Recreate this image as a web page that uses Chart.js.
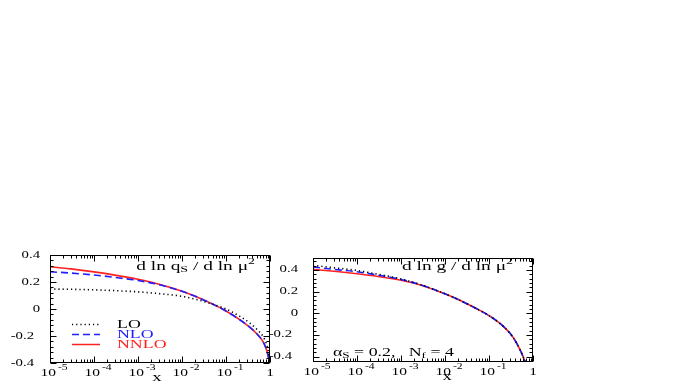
<!DOCTYPE html>
<html><head><meta charset="utf-8">
<script src="https://cdn.jsdelivr.net/npm/chart.js@4/dist/chart.umd.min.js"></script>
<style>
html,body{margin:0;padding:0;background:#fff;width:681px;height:382px;overflow:hidden;position:relative;}
#c1{position:absolute;left:0;top:240px;}
#c2{position:absolute;left:262px;top:240px;}
</style></head><body>
<canvas id="c1" width="290" height="142"></canvas>
<canvas id="c2" width="419" height="142"></canvas>
<script>
// ---- data ----
const qsX    = [1e-5, 3e-5, 1e-4, 3e-4, 1e-3, 3e-3, 1e-2, 2e-2, 5e-2, 0.1, 0.2, 0.35, 0.5, 0.7, 0.8, 0.9, 0.95, 1];
const qsLO   = [0.148, 0.146, 0.142, 0.136, 0.127, 0.114, 0.094, 0.073, 0.035, 0.000, -0.052, -0.105, -0.150, -0.205, -0.245, -0.300, -0.345, -0.400];
const qsNLO  = [0.276, 0.266, 0.252, 0.234, 0.211, 0.180, 0.132, 0.094, 0.036, -0.015, -0.077, -0.136, -0.183, -0.244, -0.285, -0.341, -0.379, -0.420];
const qsNNLO = [0.313, 0.297, 0.275, 0.251, 0.220, 0.184, 0.132, 0.094, 0.036, -0.015, -0.077, -0.136, -0.183, -0.244, -0.285, -0.341, -0.379, -0.420];

const gX     = [1e-5, 3e-5, 1e-4, 3e-4, 1e-3, 3e-3, 1e-2, 2e-2, 5e-2, 0.1, 0.2, 0.35, 0.5, 0.6, 0.7];
const gLO    = [0.442, 0.420, 0.395, 0.360, 0.316, 0.260, 0.179, 0.126, 0.046, -0.022, -0.112, -0.220, -0.332, -0.404, -0.475];
const gNLO   = [0.427, 0.405, 0.383, 0.352, 0.312, 0.259, 0.179, 0.126, 0.046, -0.022, -0.112, -0.220, -0.332, -0.404, -0.475];
const gNNLO  = [0.405, 0.387, 0.364, 0.339, 0.305, 0.257, 0.179, 0.126, 0.046, -0.022, -0.112, -0.220, -0.332, -0.404, -0.475];

const seriesNames = ['LO', 'NLO', 'NNLO'];
const xDecades = [-5, -4, -3, -2, -1, 0];
const yTickValues = [-0.4, -0.2, 0, 0.2, 0.4];
const yTickLabels = ['-0.4', '-0.2', '0', '0.2', '0.4'];

// ---- styling ----
const FONT = '"Liberation Serif", "Times New Roman", serif';
const SX = 1.55; // horizontal stretch of the reference's lettering
const COLORS = ['#000000', '#2020ff', '#ff2020'];
const DASHES = [[1.2, 3], [7, 4], []];

function drawRich(ctx, segs, x, y, align) {
  ctx.save();
  let total = 0;
  segs.forEach(s => { ctx.font = s.size + 'px ' + FONT; s.w = ctx.measureText(s.t).width * SX; total += s.w; });
  let cx = align === 'right' ? x - total : align === 'center' ? x - total / 2 : x;
  ctx.textBaseline = 'middle'; ctx.textAlign = 'left';
  segs.forEach(s => {
    ctx.save();
    ctx.font = s.size + 'px ' + FONT;
    ctx.fillStyle = s.color || '#000';
    ctx.translate(cx, y + (s.dy || 0));
    ctx.scale(SX, 1);
    ctx.fillText(s.t, 0, 0);
    ctx.restore();
    cx += s.w;
  });
  ctx.restore();
  return total;
}

function decoPlugin(cfg) {
  return {
    id: 'deco',
    afterDraw(chart) {
      const ctx = chart.ctx, a = chart.chartArea;
      const xs = chart.scales.x, ys = chart.scales.y;
      ctx.save();
      ctx.strokeStyle = '#000'; ctx.lineWidth = 1;
      const L = Math.round(a.left) + 0.5, R = Math.round(a.right) - 0.5;
      const T = Math.round(a.top) + 0.5, B = Math.round(a.bottom) - 0.5;
      ctx.strokeRect(L, T, R - L, B - T);
      ctx.beginPath();
      xDecades.forEach(k => {
        for (let m = 1; m <= 9; m++) {
          const v = m * Math.pow(10, k);
          if (v > 1.0000001) break;
          const px = Math.round(xs.getPixelForValue(v)) + 0.5;
          const len = m === 1 ? 6 : 3;
          ctx.moveTo(px, B); ctx.lineTo(px, B - len);
          ctx.moveTo(px, T); ctx.lineTo(px, T + len);
        }
      });
      for (let i = -15; i <= 15; i++) {
        const v = i * 0.04;
        if (v < ys.min - 1e-9 || v > ys.max + 1e-9) continue;
        const py = Math.round(ys.getPixelForValue(v)) + 0.5;
        const len = (i % 5 === 0) ? 6 : 3;
        ctx.moveTo(L, py); ctx.lineTo(L + len, py);
        ctx.moveTo(R, py); ctx.lineTo(R - len, py);
      }
      ctx.stroke();
      ctx.restore();

      yTickValues.forEach((v, i) => {
        const py = ys.getPixelForValue(v);
        const off = v < 0 ? cfg.yLabelGap + 6 : cfg.yLabelGap;
        drawRich(ctx, [{ t: yTickLabels[i], size: 9.5 }], a.left - off, py, 'right');
      });
      xDecades.forEach(k => {
        const px = xs.getPixelForValue(Math.pow(10, k));
        const yb = a.bottom + 10.5;
        if (k === 0) {
          drawRich(ctx, [{ t: '1', size: 10 }], px, yb, 'center');
        } else {
          drawRich(ctx, [{ t: '10', size: 10 }, { t: ' ', size: 5 }, { t: String(k), size: 7.5, dy: -5 }], px + 4, yb, 'center');
        }
      });
      drawRich(ctx, [{ t: 'x', size: 12 }], a.left + cfg.xTitleFrac * (a.right - a.left), a.bottom + 15, 'center');
      drawRich(ctx, cfg.title, a.right - cfg.titleRight, a.top + cfg.titleDy, 'right');
      if (cfg.legend) {
        chart.data.datasets.forEach((ds, i) => {
          const y = Math.round(a.top + 69 + i * 10) + 0.5;
          ctx.save();
          ctx.strokeStyle = ds.borderColor; ctx.lineWidth = 1.5;
          ctx.setLineDash(ds.borderDash || []);
          ctx.beginPath(); ctx.moveTo(a.left + 22, y); ctx.lineTo(a.left + 50, y); ctx.stroke();
          ctx.restore();
          drawRich(ctx, [{ t: ds.label, size: 11.5, color: ds.borderColor }], a.left + 67, y, 'left');
        });
      }
      if (cfg.note) {
        drawRich(ctx, cfg.note, a.left + 20, a.bottom - 9, 'left');
      }
    }
  };
}

function makeChart(id, xVals, seriesVals, cfg) {
  return new Chart(document.getElementById(id), {
    type: 'line',
    data: {
      datasets: seriesVals.map((vals, i) => ({
        label: seriesNames[i],
        data: xVals.map((x, j) => ({ x: x, y: vals[j] })),
        borderColor: COLORS[i],
        borderDash: DASHES[i],
        borderWidth: 1.6,
        pointRadius: 0,
        fill: false,
        cubicInterpolationMode: 'monotone',
        clip: 0
      }))
    },
    options: {
      responsive: false,
      animation: false,
      events: [],
      layout: { padding: cfg.padding },
      plugins: { legend: { display: false }, tooltip: { enabled: false }, title: { display: false } },
      scales: {
        x: { type: 'logarithmic', min: 1e-5, max: 1, display: false },
        y: { type: 'linear', min: cfg.ymin, max: cfg.ymax, display: false }
      }
    },
    plugins: [decoPlugin(cfg)]
  });
}

makeChart('c1', qsX, [qsLO, qsNLO, qsNNLO], {
  padding: { left: 50, right: 20, top: 15, bottom: 19 },
  ymin: -0.4, ymax: 0.4,
  yLabelGap: 10,
  xTitleFrac: 0.486,
  titleRight: 15, titleDy: 12,
  title: [{ t: 'd ln q', size: 12.5 }, { t: 'S', size: 9, dy: 3 }, { t: ' / d ln μ', size: 12.5 }, { t: '2', size: 9, dy: -5 }],
  legend: true
});

makeChart('c2', gX, [gLO, gNLO, gNNLO], {
  padding: { left: 51, right: 148, top: 18, bottom: 20 },
  ymin: -0.45, ymax: 0.51,
  yLabelGap: 15,
  xTitleFrac: 0.61,
  titleRight: 20, titleDy: 9,
  title: [{ t: 'd ln g / d ln μ', size: 12.5 }, { t: '2', size: 9, dy: -5 }],
  note: [{ t: 'α', size: 11.5 }, { t: 'S', size: 8.5, dy: 3 }, { t: ' = 0.2,   N', size: 11.5 }, { t: 'f', size: 8.5, dy: 3 }, { t: ' = 4', size: 11.5 }]
});
</script>
</body></html>
